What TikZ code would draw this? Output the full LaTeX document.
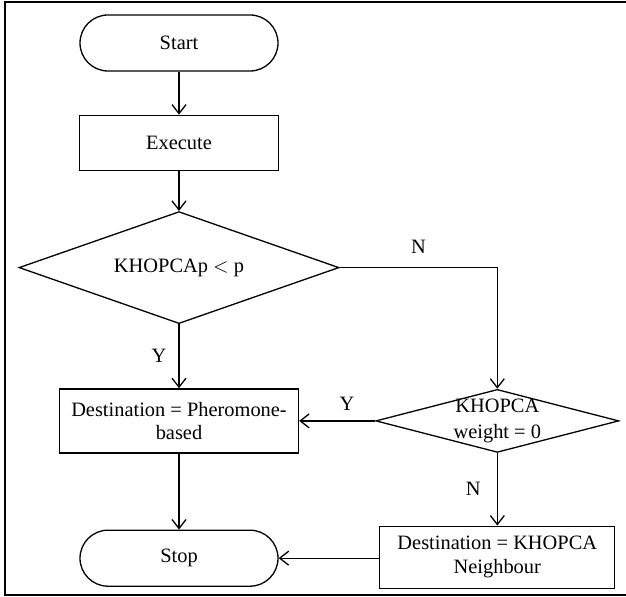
\documentclass[tikz,border=0pt]{standalone}
\usepackage{fontspec}
\setmainfont{Liberation Serif}
\usepackage{tikz}
\usetikzlibrary{arrows.meta,positioning,shapes.geometric}

\begin{document}
\begin{tikzpicture}[
  x=0.5pt, y=-0.5pt,
  every node/.style={font=\fontsize{10.2pt}{11.8pt}\selectfont},
  term/.style={draw, line width=0.65pt, rounded corners=14pt, minimum width=99pt, minimum height=28pt, inner sep=0pt},
  proc/.style={draw, line width=0.65pt, align=center, minimum width=119.5pt, minimum height=32pt, inner sep=0pt},
  dec/.style={draw, line width=0.65pt, diamond, shape aspect=2.9, inner sep=0pt},
  yn/.style={inner sep=0pt},
  arr/.style={-{Straight Barb[length=4.5pt, width=7pt]}, line width=0.65pt}
]
\useasboundingbox (0,0) rectangle (626,597);
\draw[line width=1pt] (626,2) -- (5,2) -- (5,595) -- (626,595);

\node[term] (start) at (179,43) {Start};

\node[proc, below=21.5pt of start, minimum width=99.5pt, minimum height=27.5pt] (exec) {Execute};

\node[dec, below=20pt of exec, minimum width=160pt, minimum height=56pt] (d1) {KHOPCAp $<$ p};

\node[proc, below=32pt of d1] (dest1) {Destination = Pheromone-\\based};

\node[term, below=38pt of dest1] (stop) {Stop};

\node[dec, right=38pt of dest1, minimum width=121.5pt, minimum height=31.5pt,
  label={[align=center, inner sep=0pt, font=\fontsize{10.2pt}{12.6pt}\selectfont]center:KHOPCA\\weight = 0}] (d2) {};

\node[proc, below=36.25pt of d2, minimum width=117.5pt, minimum height=31pt] (dest2) {Destination = KHOPCA\\Neighbour};

\draw[arr] (start) -- (exec);
\draw[arr] (exec) -- (d1);
\draw[arr] (d1) -- node[yn, left=6pt] {Y} (dest1);
\draw[arr] (d1.east) -| node[yn, pos=0.25, above=6.5pt] {N} (d2.north);
\draw[arr] (d2.west) -- node[yn, pos=0.37, above=5pt] {Y} (dest1.east);
\draw[arr] (d2) -- node[yn, left=8pt] {N} (dest2);
\draw[arr] (dest1) -- (stop);
\draw[arr] (dest2.west |- stop.east) -- (stop.east);
\end{tikzpicture}
\end{document}
